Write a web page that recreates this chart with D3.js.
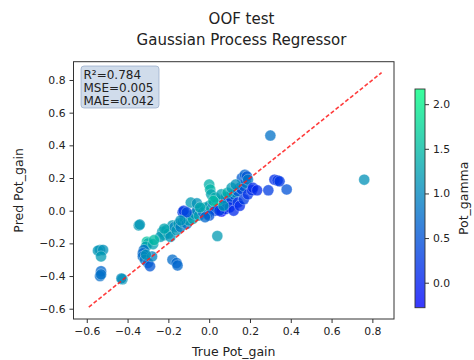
<!DOCTYPE html>
<html>
<head>
<meta charset="utf-8">
<script src="https://cdn.jsdelivr.net/npm/d3@7"></script>
<style>
  body { margin: 0; background: #fff; }
  text { font-family: "DejaVu Sans", sans-serif; fill: #222; }
</style>
</head>
<body>
<svg id="chart" width="474" height="360"></svg>
<script>
// OOF predictions: true vs predicted Pot_gain, coloured by Pot_gamma
const trueGain = [
  -0.535, -0.545, -0.52, -0.53, -0.53, -0.535, -0.53, -0.425, -0.43,
  -0.345, -0.34, -0.305, -0.30, -0.31, -0.32, -0.325, -0.325, -0.315,
  -0.30, -0.29, -0.28, -0.31, -0.275, -0.18, -0.16, -0.155,
  -0.23, -0.22, -0.24, -0.21, -0.20, -0.19, -0.18, -0.17, -0.16, -0.15,
  -0.14, -0.13, -0.12, -0.11, -0.10, -0.09, -0.08, -0.07, -0.06, -0.05,
  -0.04, -0.03, -0.02, -0.01, 0.0, 0.01, 0.02, 0.03, 0.04, 0.05, 0.06,
  0.07, 0.08, 0.09, 0.10, 0.11, 0.12, 0.13, 0.14, 0.15, 0.16, 0.17, 0.18,
  0.16, 0.175, 0.185, 0.19,
  -0.09, -0.06, -0.045, 0.0, 0.005, 0.01, 0.04, 0.03, 0.06, 0.09, 0.11, 0.13,
  -0.13, -0.125, -0.11, 0.04, 0.03, 0.06, 0.08, 0.10, 0.12, 0.14, 0.15,
  0.17, 0.19, 0.21, 0.215, 0.235, 0.29, 0.32, 0.335, 0.345, 0.38, 0.30, 0.76,
  0.0, -0.02, 0.05, -0.27, -0.22, -0.14, 0.02, 0.07
];
const predGain = [
  -0.24, -0.245, -0.24, -0.28, -0.37, -0.40, -0.39, -0.42, -0.415,
  -0.09, -0.085, -0.19, -0.20, -0.22, -0.24, -0.26, -0.28, -0.30,
  -0.32, -0.34, -0.28, -0.27, -0.205, -0.30, -0.32, -0.335,
  -0.13, -0.15, -0.16, -0.12, -0.14, -0.16, -0.09, -0.10, -0.12, -0.08,
  -0.10, -0.07, -0.05, -0.08, -0.06, -0.03, -0.05, -0.02, 0.0, -0.03,
  0.01, -0.01, 0.02, -0.02, 0.03, 0.01, 0.04, 0.02, 0.05, 0.03, 0.06,
  0.04, 0.08, 0.06, 0.09, 0.07, 0.10, 0.11, 0.12, 0.14, 0.13, 0.15, 0.17,
  0.20, 0.22, 0.21, 0.19,
  0.05, 0.045, 0.02, 0.16, 0.13, 0.10, 0.02, 0.08, 0.10, 0.11, 0.14, 0.16,
  -0.01, 0.0, -0.01, -0.155, 0.0, -0.005, 0.01, 0.02, 0.0, 0.05, 0.03,
  0.07, 0.10, 0.125, 0.14, 0.125, 0.125, 0.19, 0.185, 0.18, 0.13, 0.46, 0.19,
  -0.03, -0.04, 0.0, -0.18, -0.11, -0.06, 0.06, 0.03
];
const potGamma = [
  1.1, 1.15, 1.1, 1.2, 0.7, 0.75, 0.8, 1.15, 1.05,
  1.2, 1.15, 1.6, 1.4, 1.3, 0.8, 0.7, 0.75, 0.85,
  0.75, 0.55, 0.95, 1.1, 1.25, 0.75, 0.7, 0.7,
  1.2, 1.3, 1.2, 1.25, 1.3, 1.1, 1.2, 1.0, 1.15, 1.2,
  0.9, 1.1, 1.25, 0.8, 1.2, 1.0, 1.3, 1.1, 0.9, 1.25,
  1.2, 0.7, 1.4, 1.0, 1.2, 1.3, 0.9, 1.5, 1.1, 0.8, 1.2,
  0.45, 1.0, 0.35, 0.9, 0.3, 0.7, 1.1, 0.5, 0.8, 0.35, 0.6, 0.9,
  0.6, 0.65, 0.55, 0.85,
  1.2, 1.1, 1.3, 1.4, 1.45, 1.3, 2.17, 1.35, 1.25, 1.4, 1.2, 1.1,
  0.3, 0.2, 0.4, 1.2, 0.2, -0.28, 0.15, 0.1, 0.1, 0.2, 0.1,
  0.3, 0.2, 0.15, 0.1, 0.1, 0.3, 0.15, 0.2, 0.25, 0.5, 0.8, 1.1,
  0.5, 0.7, 0.3, 1.5, 1.3, 1.1, 1.5, 1.2
];
const refLine = [-0.59, 0.845];
const axisTicks = [-0.6, -0.4, -0.2, 0.0, 0.2, 0.4, 0.6, 0.8];
const gammaTicks = [0.0, 0.5, 1.0, 1.5, 2.0];
const metricLines = ["R\u00b2=0.784", "MSE=0.005", "MAE=0.042"];
const titleLines = ["OOF test", "Gaussian Process Regressor"];

const points = trueGain.map((t, i) => ({ t: t, p: predGain[i], g: potGamma[i] }));

const svg = d3.select("#chart");
const plot = { left: 73.5, right: 394, top: 61.7, bottom: 319 };
const fmt = d3.format(".1f");
const minus = (v) => fmt(v).replace("-", "\u2212");

const x = d3.scaleLinear().domain([-0.665, 0.906]).range([plot.left, plot.right]);
const y = d3.scaleLinear().domain([-0.663, 0.912]).range([plot.bottom, plot.top]);

// matplotlib "winter" colormap
const winter = d3.interpolateRgb("rgb(0,0,255)", "rgb(0,255,128)");
const gExtent = d3.extent(potGamma);
const color = d3.scaleSequential(winter).domain(gExtent);
const alpha = 0.75;

// titles
svg.append("g")
  .selectAll("text")
  .data(titleLines)
  .join("text")
  .attr("x", 241.5)
  .attr("y", (d, i) => 24 + i * 21)
  .attr("text-anchor", "middle")
  .attr("font-size", 15)
  .text((d) => d);

// scatter
svg.append("g")
  .selectAll("circle")
  .data(points)
  .join("circle")
  .attr("cx", (d) => x(d.t))
  .attr("cy", (d) => y(d.p))
  .attr("r", 5.5)
  .attr("fill", (d) => color(d.g))
  .attr("fill-opacity", alpha)
  .attr("stroke", "#fff")
  .attr("stroke-width", 0.6)
  .attr("stroke-opacity", 0.5);

// y = x reference
svg.append("line")
  .attr("x1", x(refLine[0]))
  .attr("y1", y(refLine[0]))
  .attr("x2", x(refLine[1]))
  .attr("y2", y(refLine[1]))
  .attr("stroke", "#ff1a1a")
  .attr("stroke-width", 1.6)
  .attr("stroke-opacity", 0.85)
  .attr("stroke-dasharray", "4,2.2");

// frame
svg.append("rect")
  .attr("x", plot.left)
  .attr("y", plot.top)
  .attr("width", plot.right - plot.left)
  .attr("height", plot.bottom - plot.top)
  .attr("fill", "none")
  .attr("stroke", "#333")
  .attr("stroke-width", 1);

// axes
const xAxis = svg.append("g")
  .attr("transform", `translate(0,${plot.bottom})`)
  .call(d3.axisBottom(x).tickValues(axisTicks).tickFormat(minus).tickSize(4).tickPadding(4));
const yAxis = svg.append("g")
  .attr("transform", `translate(${plot.left},0)`)
  .call(d3.axisLeft(y).tickValues(axisTicks).tickFormat(minus).tickSize(4).tickPadding(4));
[xAxis, yAxis].forEach((a) => {
  a.select(".domain").remove();
  a.selectAll("line").attr("stroke", "#333");
  a.selectAll("text").attr("font-size", 10.8).attr("font-family", "DejaVu Sans").attr("fill", "#222");
});

svg.append("text")
  .attr("x", (plot.left + plot.right) / 2)
  .attr("y", 356)
  .attr("text-anchor", "middle")
  .attr("font-size", 12.5)
  .text("True Pot_gain");

svg.append("text")
  .attr("transform", `translate(23,${(plot.top + plot.bottom) / 2}) rotate(-90)`)
  .attr("text-anchor", "middle")
  .attr("font-size", 12.5)
  .text("Pred Pot_gain");

// metrics box
const box = svg.append("g");
box.append("rect")
  .attr("x", 81)
  .attr("y", 66)
  .attr("width", 78)
  .attr("height", 42)
  .attr("rx", 3)
  .attr("fill", "rgb(176,196,222)")
  .attr("fill-opacity", 0.6)
  .attr("stroke", "rgb(150,170,200)")
  .attr("stroke-opacity", 0.7);
box.selectAll("text")
  .data(metricLines)
  .join("text")
  .attr("x", 83.5)
  .attr("y", (d, i) => 78.5 + i * 13)
  .attr("font-size", 12)
  .text((d) => d);

// colorbar
const cb = { x: 415, w: 10, top: 89, bottom: 307.7 };
const cy = d3.scaleLinear().domain(gExtent).range([cb.bottom, cb.top]);
const grad = svg.append("defs").append("linearGradient")
  .attr("id", "cbgrad")
  .attr("x1", 0).attr("y1", 1).attr("x2", 0).attr("y2", 0);
grad.selectAll("stop")
  .data(d3.range(0, 1.01, 0.1))
  .join("stop")
  .attr("offset", (d) => d)
  .attr("stop-color", (d) => winter(d));
svg.append("rect")
  .attr("x", cb.x)
  .attr("y", cb.top)
  .attr("width", cb.w)
  .attr("height", cb.bottom - cb.top)
  .attr("fill", "url(#cbgrad)")
  .attr("fill-opacity", 0.78);
svg.append("rect")
  .attr("x", cb.x)
  .attr("y", cb.top)
  .attr("width", cb.w)
  .attr("height", cb.bottom - cb.top)
  .attr("fill", "none")
  .attr("stroke", "#333")
  .attr("stroke-width", 0.9);
const cAxis = svg.append("g")
  .attr("transform", `translate(${cb.x + cb.w},0)`)
  .call(d3.axisRight(cy).tickValues(gammaTicks).tickFormat(minus).tickSize(4).tickPadding(4));
cAxis.select(".domain").remove();
cAxis.selectAll("line").attr("stroke", "#333");
cAxis.selectAll("text").attr("font-size", 10.8).attr("font-family", "DejaVu Sans").attr("fill", "#222");

svg.append("text")
  .attr("transform", `translate(468,${(cb.top + cb.bottom) / 2}) rotate(-90)`)
  .attr("text-anchor", "middle")
  .attr("font-size", 12.5)
  .text("Pot_gamma");
</script>
</body>
</html>
